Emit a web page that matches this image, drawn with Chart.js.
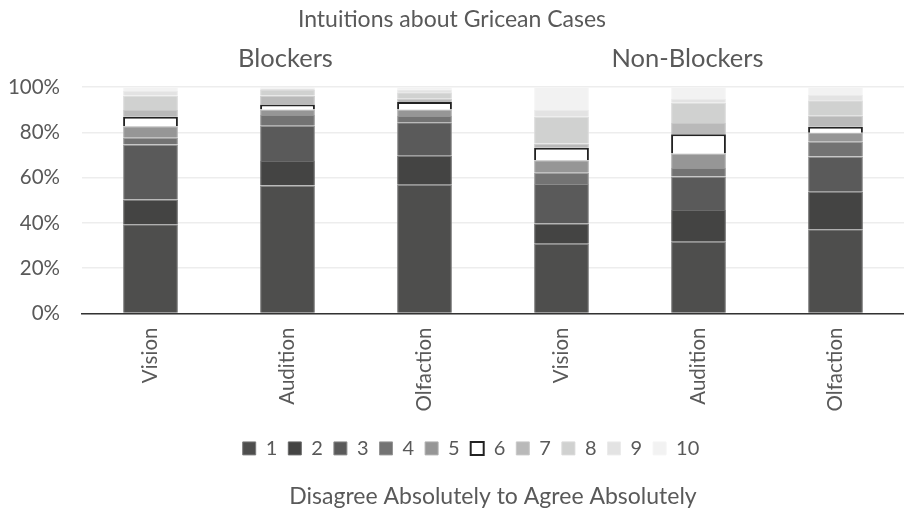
<!DOCTYPE html>
<html>
<head>
<meta charset="utf-8">
<script src="https://cdn.jsdelivr.net/npm/chart.js@4"></script>
<style>
  body { margin: 0; background: #fff; }
  #wrap { width: 904px; height: 510px; }
</style>
</head>
<body>
<div id="wrap"><canvas id="chart" width="904" height="510"></canvas></div>
<script>
// categories
const categories = ['Vision', 'Audition', 'Olfaction', 'Vision', 'Audition', 'Olfaction'];
const groups = ['Blockers', 'Non-Blockers'];
const yTicks = [0, 20, 40, 60, 80, 100];

// percent of responses per rating (1..10), one value per category
const r1  = [39.4, 56.5, 56.9, 30.8, 31.7, 37.2];
const r2  = [10.9, 10.8, 12.7,  8.9, 14.0, 16.6];
const r3  = [24.3, 15.6, 14.8, 17.5, 14.8, 15.5];
const r4  = [ 3.0,  4.7,  2.8,  4.9,  3.8,  6.5];
const r5  = [ 5.1,  2.5,  2.9,  5.6,  6.4,  4.0];
const r6  = [ 4.2,  2.2,  3.3,  5.5,  8.4,  2.6];
const r7  = [ 2.9,  3.9,  1.4,  1.9,  5.0,  4.9];
const r8  = [ 6.4,  2.5,  2.9, 11.8,  9.0,  6.9];
const r9  = [ 2.0,  0.8,  1.3,  2.9,  1.6,  2.3];
const r10 = [ 1.8,  0.5,  1.0, 10.2,  5.3,  3.5];

const series = [r1, r2, r3, r4, r5, r6, r7, r8, r9, r10];
const fills = ['#4e4e4d', '#444443', '#5a5a5a', '#737373', '#969696', '#ffffff', '#b9b9b9', '#d0d1d0', '#e3e3e3', '#f2f2f2'];
const edges = ['#7c7c7c', '#6a6a6a', '#8a8a8a', '#959595', '#b0b0b0', '#222222', '#c8c8c8', '#dadada', '#ebebeb', '#f5f5f5'];

const textColor = '#595959';
const font = 'Lato, "Open Sans", sans-serif';

const datasets = series.map((vals, i) => ({
  label: String(i + 1),
  data: vals,
  backgroundColor: fills[i],
  borderColor: edges[i],
  borderWidth: i === 5 ? 2 : 1,
  barPercentage: 0.4,
  categoryPercentage: 1
}));

// top title + group headings placed over the category scale
const headings = {
  id: 'headings',
  afterLayout(chart) {
    // legend sits a little left of the plot centre in the original
    chart.legend.left -= 22;
    chart.legend.right -= 22;
  },
  afterDraw(chart) {
    const ctx = chart.ctx;
    const x = chart.scales.x;
    ctx.save();
    ctx.fillStyle = textColor;
    ctx.textAlign = 'center';
    ctx.textBaseline = 'middle';
    ctx.font = '23px ' + font;
    ctx.fillText('Intuitions about Gricean Cases', 452, 20);
    const mid1 = (x.getPixelForValue(0) + x.getPixelForValue(2)) / 2;
    const mid2 = (x.getPixelForValue(3) + x.getPixelForValue(5)) / 2;
    ctx.font = '25.5px ' + font;
    ctx.fillText(groups[0], mid1 - 2, 59);
    ctx.fillText(groups[1], mid2 - 11, 59);
    ctx.restore();
  }
};

new Chart(document.getElementById('chart').getContext('2d'), {
  type: 'bar',
  data: { labels: categories, datasets },
  plugins: [headings],
  options: {
    responsive: false,
    animation: false,
    layout: { padding: { top: 87, right: 0, left: 0, bottom: 0 } },
    plugins: {
      legend: {
        position: 'bottom',
        fullSize: false,
        labels: {
          color: textColor,
          font: { size: 20, family: font },
          boxWidth: 13,
          boxHeight: 13,
          padding: 11
        }
      },
      title: {
        display: true,
        position: 'bottom',
        fullSize: false,
        text: 'Disagree Absolutely to Agree Absolutely',
        color: textColor,
        font: { size: 23, family: font, weight: 'normal' },
        padding: { top: 14, bottom: 0 }
      },
      tooltip: { enabled: false }
    },
    scales: {
      x: {
        stacked: true,
        grid: { display: false },
        border: { color: '#333', width: 1.5 },
        afterFit: s => { s.height += 10; },
        ticks: {
          color: textColor,
          font: { size: 20.5, family: font },
          minRotation: 90,
          maxRotation: 90,
          padding: 6
        }
      },
      y: {
        stacked: true,
        min: 0,
        max: 100,
        afterBuildTicks: axis => { axis.ticks = yTicks.map(v => ({ value: v })); },
        afterFit: s => { s.width = 82; },
        border: { display: false },
        grid: { color: '#ededed', lineWidth: 1.5, drawTicks: false },
        ticks: {
          color: textColor,
          font: { size: 20.5, family: font },
          padding: 22,
          callback: v => v + '%'
        }
      }
    }
  }
});
</script>
</body>
</html>
